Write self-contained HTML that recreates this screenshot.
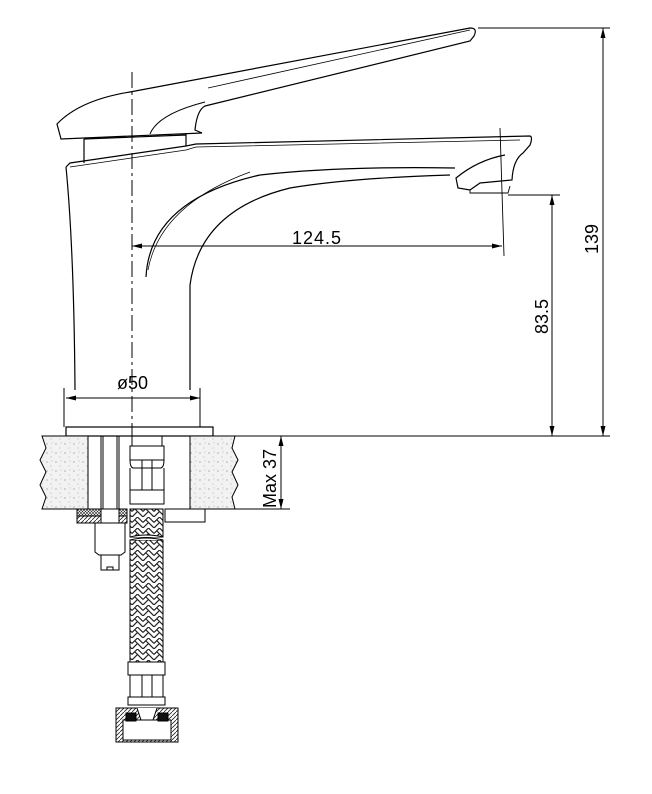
<!DOCTYPE html>
<html><head><meta charset="utf-8"><style>html,body{margin:0;padding:0;background:#fff}svg{display:block}</style></head><body>
<svg width="652" height="794" viewBox="0 0 652 794" xmlns="http://www.w3.org/2000/svg">
<defs>
<pattern id="speck" width="9" height="9" patternUnits="userSpaceOnUse"><rect width="9" height="9" fill="#f2f2f2"/><circle cx="2" cy="3" r="0.6" fill="#888"/><circle cx="6" cy="7" r="0.5" fill="#999"/><circle cx="7" cy="2" r="0.4" fill="#777"/></pattern>
<pattern id="braid" width="11" height="11" patternUnits="userSpaceOnUse"><rect width="11" height="11" fill="#fff"/><path d="M0 5.5 L5.5 0 L11 5.5 M0 11 L5.5 5.5 L11 11 M2.75 2.75 L5.5 5.5 M8.25 8.25 L5.5 5.5" fill="none" stroke="#222" stroke-width="1.2"/></pattern>
<pattern id="hatch" width="4" height="4" patternUnits="userSpaceOnUse"><path d="M0 4 L4 0" stroke="#222" stroke-width="0.8"/></pattern>
<pattern id="cross" width="3" height="3" patternUnits="userSpaceOnUse"><rect width="3" height="3" fill="#fff"/><path d="M0 3L3 0M0 0L3 3" stroke="#222" stroke-width="0.6"/></pattern>
<marker id="ar" markerWidth="10" markerHeight="6" refX="10" refY="3" orient="auto-start-reverse" markerUnits="userSpaceOnUse"><path d="M0 0.5 L10 3 L0 5.5 Z" fill="#000"/></marker>
</defs>
<g fill="none" stroke="#000" stroke-width="1.2">
<path d="M61 139 L57 124 Q80 100 130 92 L470 28 Q478 28 474 36 L470 41 L205 106 Q197 110 195 130 L202 133 Z"/>
<path d="M150 134 Q158 114 205 102" stroke-width="1"/>
<path d="M470 30 L208 88" stroke-width="0.8"/>
<path d="M84 139 L84 163 M186 133 L186 146 M84 139 L186 135"/>
<path d="M66 167 L70 163 L186 146 L196 144 L530 136 Q533 137 530 145 L523 153 Q513 160 512 180 L480 183 L470 190 L458 188 L456 178 Q478 160 505 155"/>
<path d="M70 167 L186 150 L196 147 L520 140" stroke-width="0.8"/>
<path d="M470 190 L470 193 L508 193 L510 186" stroke-width="0.9"/>
<path d="M66 167 Q74 250 75 390"/>
<path d="M190 390 L190 285 Q200 210 290 188 Q350 178 450 175"/>
<path d="M146 277 Q150 200 260 175 Q340 166 455 168"/>
<path d="M148 270 Q160 205 250 172" stroke-width="0.7"/>
<rect x="66" y="427" width="147" height="9"/>
</g>
<path d="M132 72 L132 440" stroke="#000" stroke-width="1" stroke-dasharray="16 4 3 4"/>
<path d="M500 128 L504 256" stroke="#000" stroke-width="0.9"/>
<g stroke="#000" stroke-width="1">
<path d="M42 436 L88 436 L88 509 L42 509 L46 497 L40 485 L46 472 L40 460 L46 448 Z" fill="url(#speck)"/>
<path d="M190 436 L235 436 L232 448 L238 460 L232 472 L238 485 L232 497 L235 509 L190 509 Z" fill="url(#speck)"/>
<path d="M213 436 L610 436" fill="none"/>
<path d="M235 509 L290 509" fill="none"/>
<path d="M101 436 V509 M103 436 V509 M117 436 V509 M119 436 V509" fill="none"/>
<rect x="130" y="446" width="34" height="14" fill="#fff"/>
<path d="M132 436 V446 M162 436 V446 M130 460 Q130 467 133 468 H161 Q164 467 164 460 M130 468 V490 H164 V468 M142 460 V490 M152 460 V490 M130 490 V504 H164 V490" fill="none"/>
<rect x="77" y="509" width="50" height="7" fill="url(#cross)"/>
<rect x="77" y="516" width="50" height="7" fill="url(#hatch)"/>
<rect x="101" y="509" width="18" height="14" fill="#fff"/>
<path d="M101 509 V523 M119 509 V523" fill="none"/>
<rect x="165" y="509" width="40" height="13" fill="#fff"/>
<path d="M95 523 H125 V552 L121 555 H99 L95 552 Z M101 555 V570 H119 V555 M107 570 V567 H113 V570" fill="none"/>
<rect x="130" y="509" width="33" height="28" fill="url(#braid)"/>
<rect x="130" y="540" width="33" height="122" fill="url(#braid)"/>
<path d="M130 537 Q146 533 163 537 M130 540 Q146 536 163 540" fill="#fff"/>
<path d="M128 662 H165 V675 H128 Z M130 675 V697 H163 V675 M142 675 V697 M152 675 V697" fill="#fff"/>
<path d="M128 697 H165 V705 H128 Z" fill="#fff"/>
<rect x="116" y="708" width="62" height="34" fill="url(#hatch)"/>
<rect x="123" y="720" width="48" height="20" fill="#fff"/>
<rect x="126" y="713" width="10" height="8" fill="#111"/>
<rect x="158" y="713" width="10" height="8" fill="#111"/>
<path d="M137 708 L141 720 H153 L157 708" fill="#fff"/>
</g>
<g stroke="#000" stroke-width="1" fill="none">
<path d="M132 246 L502 246" marker-start="url(#ar)" marker-end="url(#ar)"/>
<path d="M66 398 L200 398" marker-start="url(#ar)" marker-end="url(#ar)"/>
<path d="M64 388 V427 M200 388 V427"/>
<path d="M552 195 L552 436" marker-start="url(#ar)" marker-end="url(#ar)"/>
<path d="M508 195 L560 195"/>
<path d="M603 28 L603 436" marker-start="url(#ar)" marker-end="url(#ar)"/>
<path d="M478 28 L610 28"/>
<path d="M281 436 L281 509" marker-start="url(#ar)" marker-end="url(#ar)"/>
</g>
<g font-family="Liberation Sans, sans-serif" font-size="18" fill="#000">
<text x="292" y="244" letter-spacing="1">124.5</text>
<text x="117" y="389">ø50</text>
<text transform="translate(548 334) rotate(-90)">83.5</text>
<text transform="translate(598 254) rotate(-90)">139</text>
<text transform="translate(276 508) rotate(-90)">Max 37</text>
</g>
</svg>
</body></html>
